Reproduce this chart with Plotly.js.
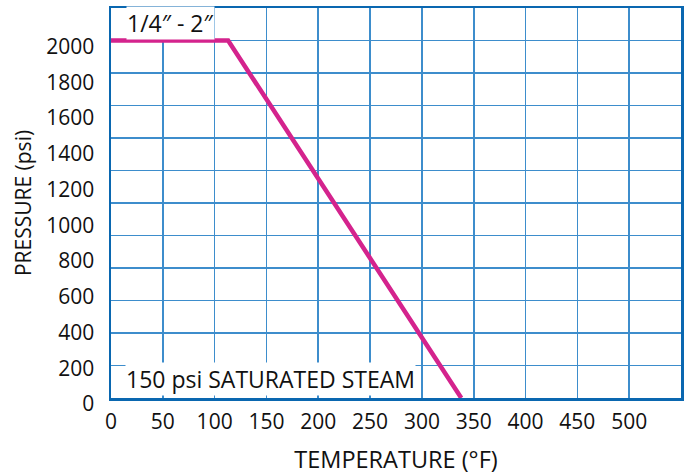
<!DOCTYPE html>
<html>
<head>
<meta charset="utf-8">
<script src="https://cdn.plot.ly/plotly-3.0.1.min.js"></script>
<style>html,body{margin:0;padding:0;background:#fff;}#chart{width:685px;height:475px;}</style>
</head>
<body>
<div id="chart"></div>
<script>
// Data
const temperatureF = [0, 113, 338];
const pressurePsi = [2000, 2000, 0];
const xTickVals = [0, 50, 100, 150, 200, 250, 300, 350, 400, 450, 500];
const yTickVals = [0, 200, 400, 600, 800, 1000, 1200, 1400, 1600, 1800, 2000];
const sizeLabel = "1/4\u2033 - 2\u2033";
const mediaLabel = "150 psi SATURATED STEAM";

const FONT = "Open Sans, Noto Sans, sans-serif";
const GRID = "#3d8dcc";
const FRAME = "#0a67b0";

const traces = [
  {
    x: [null], y: [null], yaxis: "y2", type: "scatter", mode: "lines",
    hoverinfo: "skip", showlegend: false
  },
  {
    x: temperatureF, y: pressurePsi, type: "scatter", mode: "lines",
    line: {color: "#d4238d", width: 4.5},
    hoverinfo: "skip", showlegend: false
  }
];

const layout = {
  width: 685, height: 475,
  margin: {l: 111, r: 4, t: 8, b: 77},
  paper_bgcolor: "#fff", plot_bgcolor: "#fff",
  font: {family: FONT, color: "#111", size: 20},
  showlegend: false,
  xaxis: {
    range: [0, 550], tickvals: xTickVals, ticktext: xTickVals.map(String),
    showgrid: true, gridcolor: GRID, gridwidth: 1.6,
    zeroline: false, showline: true, mirror: true, linecolor: FRAME, linewidth: 2.5,
    ticks: "", ticklabelstandoff: 3,
    tickfont: {size: 21, family: FONT, color: "#111"},
    title: {text: "TEMPERATURE (\u00B0F)", font: {size: 23.5, family: FONT, color: "#111"}, standoff: 31},
    automargin: false, fixedrange: true
  },
  yaxis: {
    range: [0, 2182], tickvals: yTickVals, ticktext: yTickVals.map(String),
    showgrid: false, zeroline: false,
    showline: true, mirror: true, linecolor: FRAME, linewidth: 2.5,
    ticks: "", ticklabelstandoff: 10, ticklabelshift: 6,
    tickfont: {size: 21, family: FONT, color: "#111"},
    title: {text: "PRESSURE (psi)", font: {size: 21, family: FONT, color: "#111"}, standoff: 9},
    automargin: false, fixedrange: true
  },
  yaxis2: {
    overlaying: "y", side: "right", range: [0, 12], dtick: 1,
    showgrid: true, gridcolor: GRID, gridwidth: 1.6,
    showticklabels: false, ticks: "", zeroline: false, showline: false,
    fixedrange: true
  },
  annotations: [
    {
      text: sizeLabel, xref: "paper", yref: "paper", x: 0.105, y: 0.962,
      xanchor: "center", yanchor: "middle", showarrow: false,
      bgcolor: "#fff", borderpad: 0,
      font: {size: 23, family: FONT, color: "#111"}
    },
    {
      text: mediaLabel, xref: "paper", yref: "paper", x: 0.28, y: 0.05,
      xanchor: "center", yanchor: "middle", showarrow: false,
      bgcolor: "#fff", borderpad: 0,
      font: {size: 23, family: FONT, color: "#111"}
    }
  ]
};

Plotly.newPlot("chart", traces, layout, {displayModeBar: false, staticPlot: true});
</script>
</body>
</html>
